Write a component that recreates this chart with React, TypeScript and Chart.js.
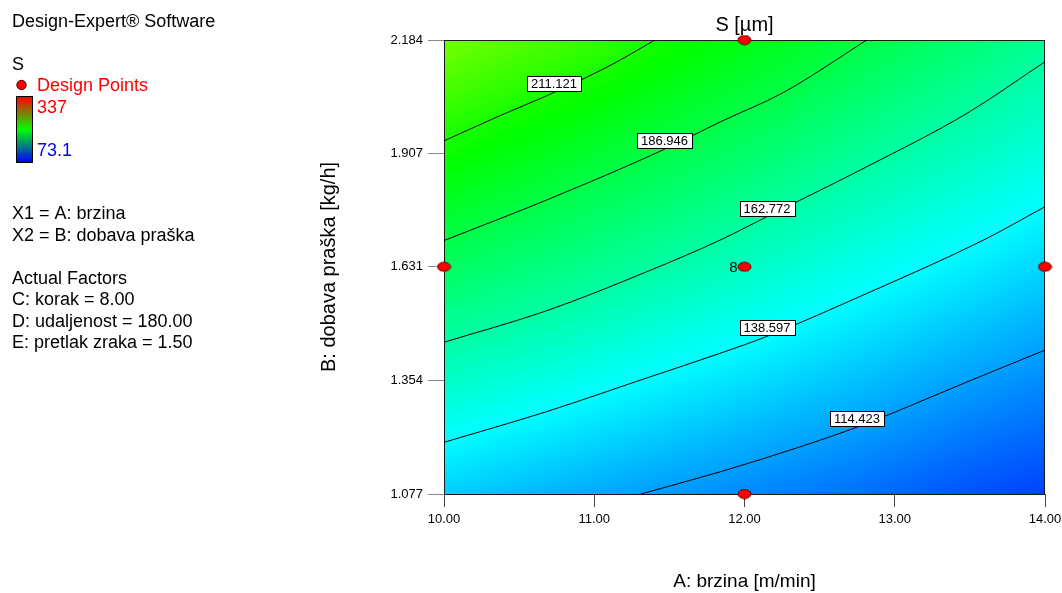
import React, { useEffect, useRef } from 'react';
import { Chart, registerables } from 'chart.js';

Chart.register(...registerables);

const FONT = '"Liberation Sans", Arial, sans-serif';

// Axes
const X_MIN = 10;
const X_MAX = 14;
const Y_MIN = 1.077;
const Y_MAX = 2.184;
const X_TICKS = [10, 11, 12, 13, 14];
const Y_TICKS = [1.077, 1.354, 1.631, 1.907, 2.184];

// Colour scale range (legend)
const S_MIN = 73.1;
const S_MAX = 337;

// Contour levels and their traced paths (x = brzina, y = dobava praška)
const CONTOUR_LEVELS = [211.121, 186.946, 162.772, 138.597, 114.423];
const contour211 = [
  { x: 10, y: 1.938 }, { x: 10.351, y: 1.996 }, { x: 10.75, y: 2.059 },
  { x: 11.127, y: 2.126 }, { x: 11.404, y: 2.184 },
];
const contour187 = [
  { x: 10, y: 1.695 }, { x: 10.684, y: 1.794 }, { x: 11.482, y: 1.92 },
  { x: 11.837, y: 1.984 }, { x: 12.259, y: 2.056 }, { x: 12.814, y: 2.184 },
];
const contour163 = [
  { x: 10, y: 1.447 }, { x: 10.684, y: 1.524 }, { x: 11.35, y: 1.619 },
  { x: 11.837, y: 1.696 }, { x: 12.17, y: 1.757 }, { x: 12.814, y: 1.875 },
  { x: 13.48, y: 2.005 }, { x: 14, y: 2.131 },
];
const contour139 = [
  { x: 10, y: 1.203 }, { x: 10.684, y: 1.278 }, { x: 11.35, y: 1.36 },
  { x: 11.837, y: 1.42 }, { x: 12.147, y: 1.461 }, { x: 12.814, y: 1.566 },
  { x: 13.59, y: 1.696 }, { x: 14, y: 1.7775 },
];
const contour114 = [
  { x: 11.31, y: 1.077 }, { x: 11.837, y: 1.131 }, { x: 12.37, y: 1.192 },
  { x: 12.77, y: 1.243 }, { x: 13.48, y: 1.35 }, { x: 14, y: 1.428 },
];
const CONTOURS = [contour211, contour187, contour163, contour139, contour114];

// Where each contour's value label sits
const LABEL_X = [10.732, 11.468, 12.15, 12.15, 12.749];
const LABEL_Y = [2.079, 1.94, 1.774, 1.482, 1.262];

// Design points
const DESIGN_X = [10, 12, 14, 12, 12];
const DESIGN_Y = [1.631, 1.631, 1.631, 2.184, 1.077];
const DESIGN_COUNT = [1, 8, 1, 1, 1];

const LEGEND_LINES = [
  'X1 = A: brzina',
  'X2 = B: dobava praška',
  '',
  'Actual Factors',
  'C: korak = 8.00',
  'D: udaljenost = 180.00',
  'E: pretlak zraka = 1.50',
];

function colorFor(v: number): [number, number, number] {
  let t = (v - S_MIN) / (S_MAX - S_MIN);
  t = Math.max(0, Math.min(1, t));
  const seg = Math.min(3, Math.floor(t * 4));
  const s = t * 4 - seg;
  if (seg === 0) return [0, 255 * s, 255];
  if (seg === 1) return [0, 255, 255 * (1 - s)];
  if (seg === 2) return [255 * s, 255, 0];
  return [255, 255 * (1 - s), 0];
}

// extend a pixel polyline along its end directions (used only for shading)
function extendPoly(poly: number[][]): number[][] {
  const n = poly.length;
  const [ax, ay] = poly[0];
  const [bx, by] = poly[1];
  const [cx, cy] = poly[n - 2];
  const [dx, dy] = poly[n - 1];
  const far = 3000;
  const s0 = (by - ay) / (bx - ax);
  const s1 = (dy - cy) / (dx - cx);
  return [[ax - far, ay - far * s0], ...poly, [dx + far, dy + far * s1]];
}

const backgroundPlugin = {
  id: 'contourBackground',
  beforeDatasetsDraw(chart: any) {
    const { ctx, chartArea: a, scales } = chart;
    const xs = scales.x;
    const ys = scales.y;
    const L = Math.round(a.left);
    const T = Math.round(a.top);
    const W = Math.round(a.right) - L;
    const H = Math.round(a.bottom) - T;
    const polys = CONTOURS.map((c) =>
      extendPoly(c.map((p) => [xs.getPixelForValue(p.x), ys.getPixelForValue(p.y)]))
    );
    const off = document.createElement('canvas');
    off.width = W;
    off.height = H;
    const octx = off.getContext('2d')!;
    const img = octx.createImageData(W, H);
    const data = img.data;
    for (let i = 0; i < W; i++) {
      const px = L + i + 0.5;
      const pts: [number, number][] = [];
      polys.forEach((poly, k) => {
        for (let j = 0; j < poly.length - 1; j++) {
          const [x0, y0] = poly[j];
          const [x1, y1] = poly[j + 1];
          if (px >= x0 && px <= x1 && x1 !== x0) {
            pts.push([y0 + ((y1 - y0) * (px - x0)) / (x1 - x0), CONTOUR_LEVELS[k]]);
            break;
          }
        }
      });
      pts.sort((p, q) => p[0] - q[0]);
      let m = 0;
      for (let r = 0; r < H; r++) {
        const py = T + r + 0.5;
        while (m < pts.length - 2 && py > pts[m + 1][0]) m++;
        const [ya, va] = pts[m];
        const [yb, vb] = pts[m + 1];
        const v = va + ((vb - va) * (py - ya)) / (yb - ya);
        const [cr, cg, cb] = colorFor(v);
        const idx = (r * W + i) * 4;
        data[idx] = cr;
        data[idx + 1] = cg;
        data[idx + 2] = cb;
        data[idx + 3] = 255;
      }
    }
    octx.putImageData(img, 0, 0);
    ctx.save();
    ctx.drawImage(off, L, T);
    ctx.strokeStyle = '#1a1a1a';
    ctx.lineWidth = 1;
    ctx.strokeRect(L + 0.5, T + 0.5, W - 1, H);
    ctx.restore();
  },
};

const overlayPlugin = {
  id: 'overlay',
  afterDatasetsDraw(chart: any) {
    const { ctx, scales } = chart;
    const xs = scales.x;
    const ys = scales.y;
    ctx.save();
    ctx.font = `13px ${FONT}`;
    ctx.textAlign = 'center';
    ctx.textBaseline = 'middle';
    CONTOUR_LEVELS.forEach((lvl, k) => {
      const txt = lvl.toFixed(3);
      const cx = xs.getPixelForValue(LABEL_X[k]);
      const cy = ys.getPixelForValue(LABEL_Y[k]);
      const w = Math.round(ctx.measureText(txt).width + 8);
      const h = 15;
      const x0 = Math.round(cx - w / 2) + 0.5;
      const y0 = Math.round(cy - h / 2) + 0.5;
      ctx.fillStyle = '#ffffff';
      ctx.fillRect(x0, y0, w, h);
      ctx.strokeStyle = '#000000';
      ctx.lineWidth = 1;
      ctx.strokeRect(x0, y0, w, h);
      ctx.fillStyle = '#000000';
      ctx.fillText(txt, cx, cy + 1);
    });
    // replicate counts next to design points
    ctx.font = `15px ${FONT}`;
    ctx.textAlign = 'right';
    ctx.textBaseline = 'alphabetic';
    ctx.fillStyle = '#000000';
    DESIGN_COUNT.forEach((n, k) => {
      if (n > 1) {
        const px = xs.getPixelForValue(DESIGN_X[k]);
        const py = ys.getPixelForValue(DESIGN_Y[k]);
        ctx.fillText(String(n), px - 7, py + 5.5);
      }
    });
    ctx.restore();
  },
  afterDraw(chart: any) {
    const { ctx, chartArea: a } = chart;
    const cx = (a.left + a.right) / 2;
    const cy = (a.top + a.bottom) / 2;
    ctx.save();
    ctx.fillStyle = '#000000';
    ctx.textBaseline = 'alphabetic';
    // title
    ctx.font = `20px ${FONT}`;
    ctx.textAlign = 'center';
    ctx.fillText('S [µm]', cx, 31);
    // axis titles
    ctx.font = `19px ${FONT}`;
    ctx.fillText('A: brzina [m/min]', cx, 587);
    ctx.save();
    ctx.font = `20px ${FONT}`;
    ctx.translate(335, cy);
    ctx.rotate(-Math.PI / 2);
    ctx.fillText('B: dobava praška [kg/h]', 0, 0);
    ctx.restore();
    // left legend panel
    ctx.textAlign = 'left';
    ctx.font = `18px ${FONT}`;
    ctx.fillText('Design-Expert® Software', 12, 27);
    ctx.fillText('S', 12, 70);
    ctx.fillStyle = '#ff0000';
    ctx.fillText('Design Points', 37, 91);
    ctx.fillText(String(S_MAX), 37, 113);
    ctx.fillStyle = '#0000ff';
    ctx.fillText(S_MIN.toFixed(1), 37, 156);
    ctx.fillStyle = '#000000';
    LEGEND_LINES.forEach((line, i) => {
      if (line) ctx.fillText(line, 12, 219 + i * 21.5);
    });
    // legend marker
    ctx.beginPath();
    ctx.arc(21.5, 85, 4.7, 0, Math.PI * 2);
    ctx.fillStyle = '#ff0000';
    ctx.fill();
    ctx.strokeStyle = '#500000';
    ctx.lineWidth = 1;
    ctx.stroke();
    // colour bar
    const g = ctx.createLinearGradient(0, 97, 0, 162);
    g.addColorStop(0, '#ff0000');
    g.addColorStop(0.5, '#00ff00');
    g.addColorStop(1, '#0000ff');
    ctx.fillStyle = g;
    ctx.fillRect(17, 97, 15, 65);
    ctx.strokeStyle = '#000000';
    ctx.strokeRect(16.5, 96.5, 16, 66);
    ctx.restore();
  },
};

function makeEllipse(): HTMLCanvasElement {
  const c = document.createElement('canvas');
  c.width = 15;
  c.height = 11;
  const g = c.getContext('2d')!;
  g.beginPath();
  g.ellipse(7.5, 5.5, 6.5, 4.5, 0, 0, Math.PI * 2);
  g.fillStyle = '#ff0000';
  g.fill();
  g.strokeStyle = '#600000';
  g.lineWidth = 1;
  g.stroke();
  return c;
}

export default function App() {
  const ref = useRef<HTMLCanvasElement | null>(null);

  useEffect(() => {
    if (!ref.current) return;
    const ellipse = makeEllipse();
    const contourSets = CONTOURS.map((c, k) => ({
      label: CONTOUR_LEVELS[k].toFixed(3),
      data: c,
      showLine: true,
      borderColor: '#000000',
      borderWidth: 1,
      pointRadius: 0,
      pointHoverRadius: 0,
      cubicInterpolationMode: 'monotone',
      fill: false,
    }));
    const designSet = {
      label: 'Design Points',
      data: DESIGN_X.map((x, i) => ({ x, y: DESIGN_Y[i] })),
      showLine: false,
      pointStyle: ellipse,
      pointRadius: 6,
      clip: false,
    };
    const chart = new Chart(ref.current, {
      type: 'scatter',
      data: { datasets: [...contourSets, designSet] as any },
      options: {
        responsive: false,
        animation: false,
        events: [],
        layout: { padding: { left: 0, right: 17, top: 40, bottom: 0 } },
        plugins: { legend: { display: false }, tooltip: { enabled: false }, title: { display: false } },
        scales: {
          x: {
            type: 'linear',
            position: 'bottom',
            min: X_MIN,
            max: X_MAX,
            afterBuildTicks: (s: any) => {
              s.ticks = X_TICKS.map((v) => ({ value: v }));
            },
            afterFit: (s: any) => {
              s.height = 99;
              s.paddingLeft = 0;
              s.paddingRight = 0;
            },
            ticks: {
              autoSkip: false,
              maxRotation: 0,
              padding: 5,
              color: '#000000',
              font: { size: 13, family: FONT },
              callback: (v: any) => Number(v).toFixed(2),
            },
            grid: { drawOnChartArea: false, drawTicks: true, tickLength: 13, color: '#444444' },
            border: { display: false },
          },
          y: {
            type: 'linear',
            min: Y_MIN,
            max: Y_MAX,
            afterBuildTicks: (s: any) => {
              s.ticks = Y_TICKS.map((v) => ({ value: v }));
            },
            afterFit: (s: any) => {
              s.width = 444;
              s.paddingTop = 0;
              s.paddingBottom = 0;
            },
            ticks: {
              autoSkip: false,
              padding: 5,
              color: '#000000',
              font: { size: 13, family: FONT },
              callback: (v: any) => Number(v).toFixed(3),
            },
            grid: { drawOnChartArea: false, drawTicks: true, tickLength: 16, color: '#888888' },
            border: { display: false },
          },
        },
      },
      plugins: [backgroundPlugin, overlayPlugin],
    } as any);
    return () => chart.destroy();
  }, []);

  return (
    <canvas
      ref={ref}
      width={1062}
      height={593}
      style={{ position: 'absolute', left: 0, top: 0, width: 1062, height: 593 }}
    />
  );
}
